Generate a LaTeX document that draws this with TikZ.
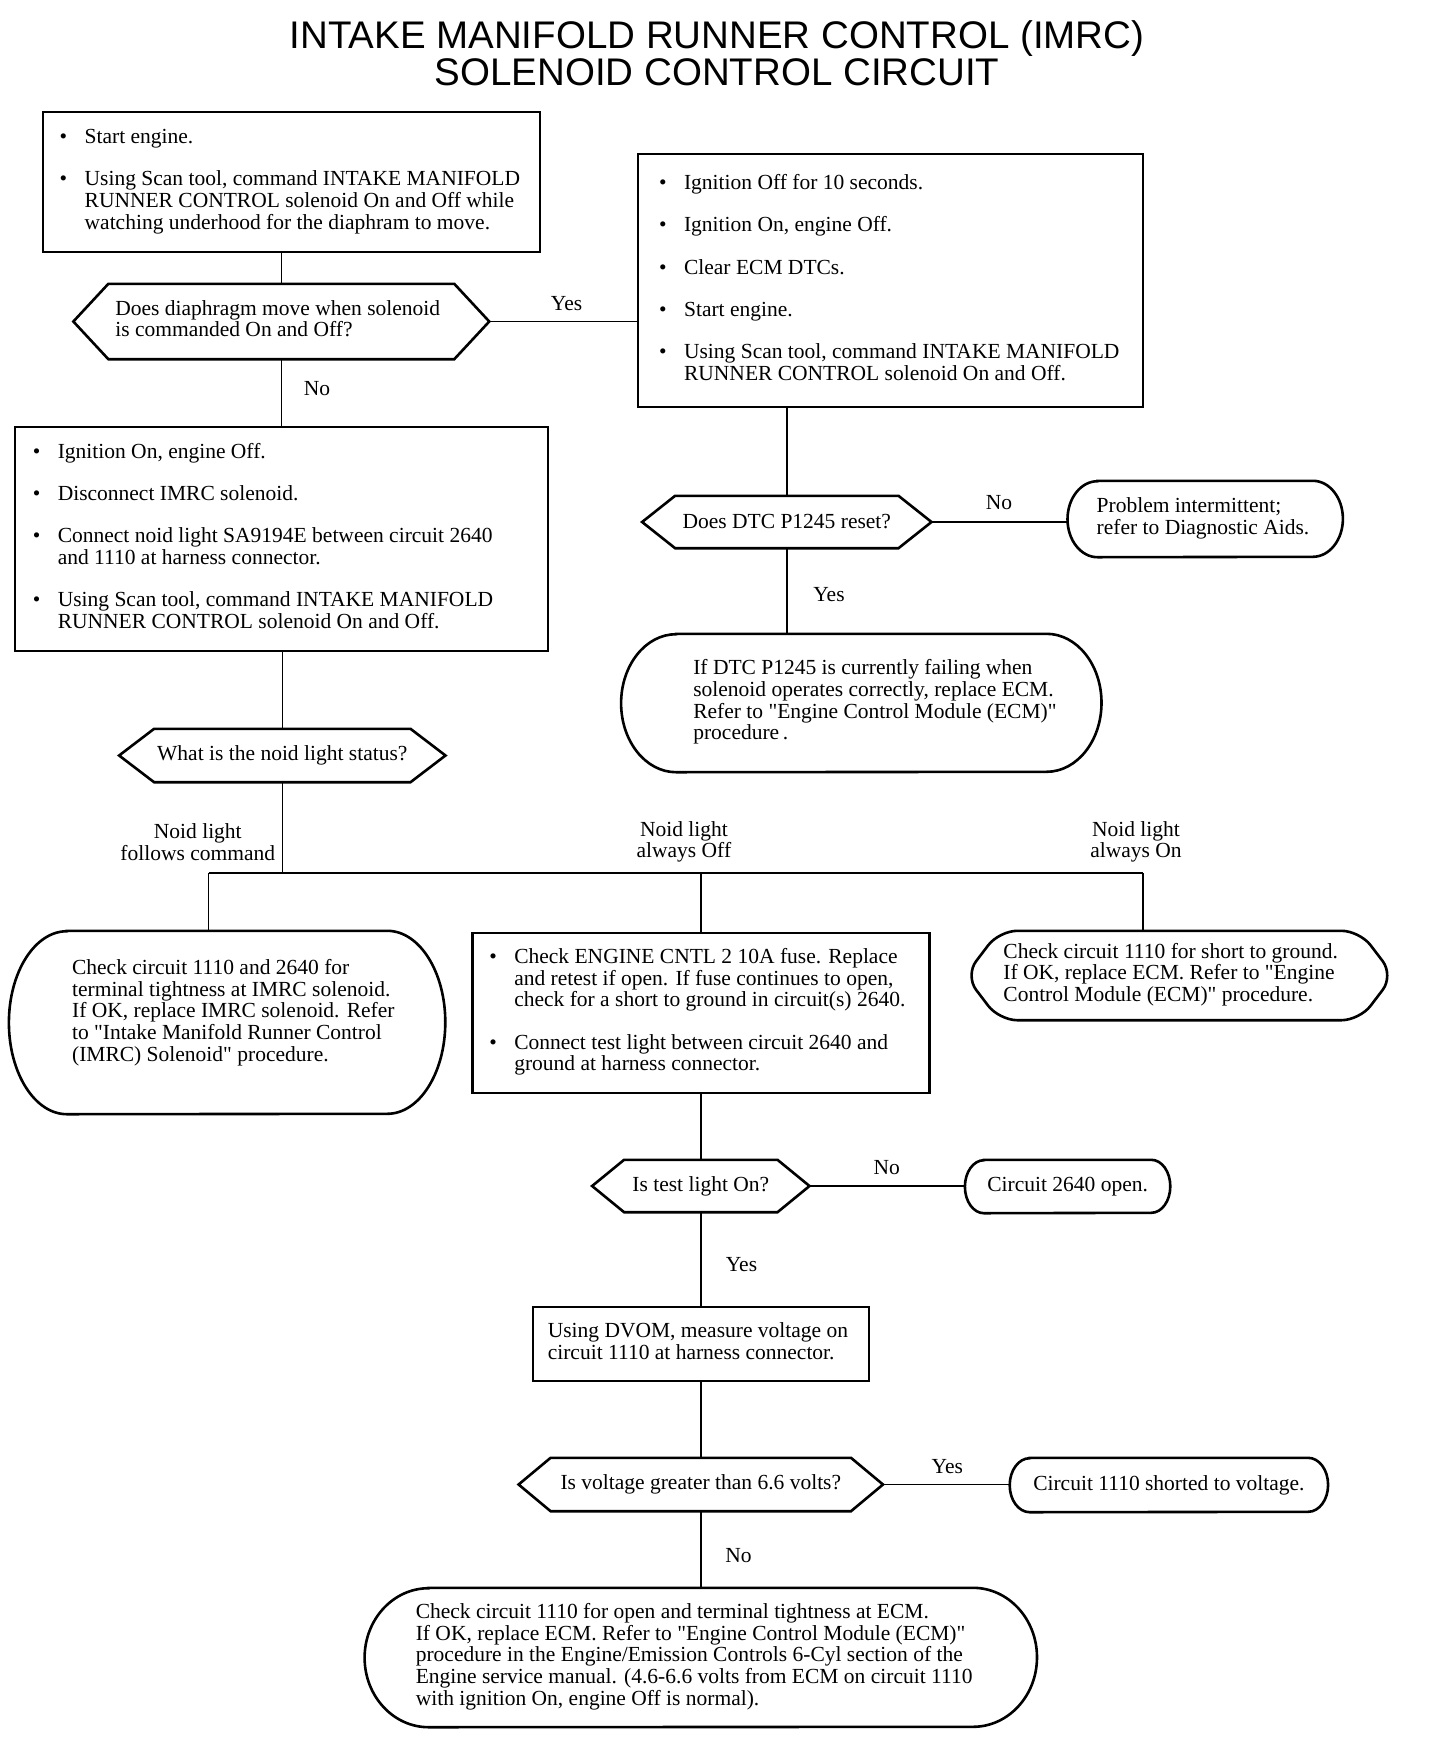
\documentclass[tikz,border=0pt]{standalone}
\usepackage{fontspec}
\setmainfont{Liberation Serif}[Ligatures=TeXOff]
\newfontfamily\titlefont{Liberation Sans}
\usetikzlibrary{calc}
\newcommand\bodyfont{\fontsize{21.5pt}{21.6pt}\selectfont}
\newcommand\bu{\makebox[25pt][l]{\textbullet}}
\newcommand\bt[2]{\makebox[#1][l]{\begin{tabular}{@{}l@{}l@{}}#2\end{tabular}}}
\newcommand\pt[2]{\makebox[#1][l]{\begin{tabular}{@{}l@{}}#2\end{tabular}}}
\newcommand\hexout[2]{%
  \draw[shapeline] (#1.west) -- ([xshift=#2]#1.north west) -- ([xshift=-#2]#1.north east) -- (#1.east) -- ([xshift=-#2]#1.south east) -- ([xshift=#2]#1.south west) -- cycle;}
\newcommand\capout[3]{%
  \draw[shapeline] ([xshift=#2]#1.north west) -- ([xshift=-#2]#1.north east) arc[start angle=90, end angle=-90, x radius=#2, y radius=#3] -- ([xshift=#2]#1.south west) arc[start angle=270, end angle=90, x radius=#2, y radius=#3] -- cycle;}
\begin{document}
\begin{tikzpicture}[x=1pt,y=-1pt,
  every node/.style={font=\bodyfont, inner sep=0pt},
  title/.style={font=\titlefont\fontsize{38.5pt}{38.5pt}\selectfont, anchor=base},
  rectbox/.style={draw, line width=2.4pt},
  shapeline/.style={line width=2.6pt, line join=miter},
  conn/.style={line width=1.5pt},
  lbl/.style={align=center}]
\useasboundingbox[fill=white] (0,0) rectangle (1440,1738);

% title
\node[title] (t1) at (717,48) {INTAKE MANIFOLD RUNNER CONTROL (IMRC)};
\node[title] (t2) at (717,85) {SOLENOID CONTROL CIRCUIT};

% boxes
\node[rectbox, minimum width=497pt, minimum height=140pt] (A) at (291.2,182)
 {\bt{463pt}{\bu & Start engine.\\[20.8pt]
  \bu & Using Scan tool, command INTAKE MANIFOLD\\
      & RUNNER CONTROL solenoid On and Off while\\
      & watching underhood for the diaphram to move.}};

\node[minimum width=415.5pt, minimum height=75pt] (H1) at (281.3,321.5)
 {\pt{332pt}{Does diaphragm move when solenoid\\is commanded On and Off?}};

\node[rectbox, minimum width=505pt, minimum height=253pt] (B) at (890.6,280.5)
 {\bt{463pt}{\bu & Ignition Off for 10 seconds.\\[20.8pt]
  \bu & Ignition On, engine Off.\\[20.8pt]
  \bu & Clear ECM DTCs.\\[20.8pt]
  \bu & Start engine.\\[20.8pt]
  \bu & Using Scan tool, command INTAKE MANIFOLD\\
      & RUNNER CONTROL solenoid On and Off.}};

\node[rectbox, minimum width=533pt, minimum height=224pt] (C) at (281.3,539)
 {\bt{497pt}{\bu & Ignition On, engine Off.\\[20.8pt]
  \bu & Disconnect IMRC solenoid.\\[20.8pt]
  \bu & Connect noid light SA9194E between circuit 2640\\
      & and 1110 at harness connector.\\[20.8pt]
  \bu & Using Scan tool, command INTAKE MANIFOLD\\
      & RUNNER CONTROL solenoid On and Off.}};

\node[minimum width=289pt, minimum height=52pt] (H2) at (786.8,522) {Does DTC P1245 reset?};

\node[minimum width=275pt, minimum height=76pt] (D) at (1205.2,519)
 {\pt{217pt}{Problem intermittent;\\refer to Diagnostic Aids.}};

\node[minimum width=480pt, minimum height=138pt] (E) at (861.3,703)
 {\pt{336pt}{If DTC P1245 is currently failing when\\
  solenoid operates correctly, replace ECM.\\
  Refer to "Engine Control Module (ECM)"\\
  procedure\,.}};

\node[minimum width=326pt, minimum height=53pt] (H3) at (282.3,755.5) {What is the noid light status?};

\node[minimum width=436pt, minimum height=183pt] (F) at (227.1,1022.5)
 {\pt{310pt}{Check circuit 1110 and 2640 for\\
  terminal tightness at IMRC solenoid.\\
  If OK, replace IMRC solenoid. Refer\\
  to "Intake Manifold Runner Control\\
  (IMRC) Solenoid" procedure.\\[18pt]}};

\node[rectbox, minimum width=457pt, minimum height=160pt] (G) at (700.8,1013)
 {\bt{423pt}{\bu & Check ENGINE CNTL 2 10A fuse. Replace\\
      & and retest if open. If fuse continues to open,\\
      & check for a short to ground in circuit(s) 2640.\\[20.8pt]
  \bu & Connect test light between circuit 2640 and\\
      & ground at harness connector.}};

\node[minimum width=428pt, minimum height=89pt] (Hs) at (1179.4,975.5)
 {\pt{352pt}{Check circuit 1110 for short to ground.\\
  If OK, replace ECM. Refer to "Engine\\
  Control Module (ECM)" procedure.}};

\node[minimum width=217pt, minimum height=52pt] (H4) at (700.8,1186) {Is test light On?};

\node[minimum width=205pt, minimum height=53pt] (I) at (1067.6,1186.5) {Circuit 2640 open.};

\node[rectbox, minimum width=336pt, minimum height=74pt] (J) at (700.8,1344)
 {\pt{306pt}{Using DVOM, measure voltage on\\circuit 1110 at harness connector.}};

\node[minimum width=364pt, minimum height=53pt] (H5) at (700.8,1484.5) {Is voltage greater than 6.6 volts?};

\node[minimum width=318pt, minimum height=54pt] (K) at (1168.9,1485) {Circuit 1110 shorted to voltage.};

\node[minimum width=672pt, minimum height=139pt] (L) at (700.8,1657.5)
 {\pt{570pt}{Check circuit 1110 for open and terminal tightness at ECM.\\
  If OK, replace ECM. Refer to "Engine Control Module (ECM)"\\
  procedure in the Engine/Emission Controls 6-Cyl section of the\\
  Engine service manual. (4.6-6.6 volts from ECM on circuit 1110\\
  with ignition On, engine Off is normal).}};

% outlines
\hexout{H1}{35pt}
\hexout{H2}{33pt}
\hexout{H3}{35pt}
\hexout{H4}{32pt}
\hexout{H5}{32pt}
\begin{scope}[rounded corners=18pt]
\hexout{Hs}{34pt}
\end{scope}
\capout{D}{30pt}{38pt}
\capout{E}{55pt}{69pt}
\capout{F}{58pt}{91.5pt}
\capout{I}{19pt}{26.5pt}
\capout{K}{20pt}{27pt}
\capout{L}{64pt}{69.5pt}

% labels
\node (lY1) at (566.6,304) {Yes};
\node (lN1) at (317,389) {No};
\node (lN2) at (999,503) {No};
\node (lY2) at (829,595) {Yes};
\node[lbl] (lf1) at (197.8,842) {Noid light\\follows command};
\node[lbl] (lf2) at (683.9,842) {Noid light\\always Off};
\node[lbl] (lf3) at (1136,842) {Noid light\\always On};
\node (lN3) at (886.7,1168) {No};
\node (lY3) at (741.5,1265) {Yes};
\node (lY4) at (947.3,1467) {Yes};
\node (lN4) at (738.5,1556) {No};

% connectors
\coordinate (bus) at (282.3,873);
\coordinate (dF) at (208.7,873);
\coordinate (dG) at (700.8,873);
\coordinate (dH) at (1143.1,873);
\draw[conn] (A.south -| H1.north) -- (H1.north);
\draw[conn] (H1.east) -- (H1.east -| B.west);
\draw[conn] (H1.south) -- (H1.south |- C.north);
\draw[conn] (B.south -| H2.north) -- (H2.north);
\draw[conn] (H2.east) -- (H2.east -| D.west);
\draw[conn] (H2.south) -- (H2.south |- E.north);
\draw[conn] (C.south -| H3.north) -- (H3.north);
\draw[conn] (H3.south) -- (bus);
\draw[conn] (dF) -- (dH);
\draw[conn] (dF) -- (dF |- F.north);
\draw[conn] (dG) -- (dG |- G.north);
\draw[conn] (dH) -- (dH |- Hs.north);
\draw[conn] (G.south -| H4.north) -- (H4.north);
\draw[conn] (H4.east) -- (H4.east -| I.west);
\draw[conn] (H4.south) -- (J.north);
\draw[conn] (J.south) -- (H5.north);
\draw[conn] (H5.east) -- (H5.east -| K.west);
\draw[conn] (H5.south) -- (L.north);
\end{tikzpicture}
\end{document}
